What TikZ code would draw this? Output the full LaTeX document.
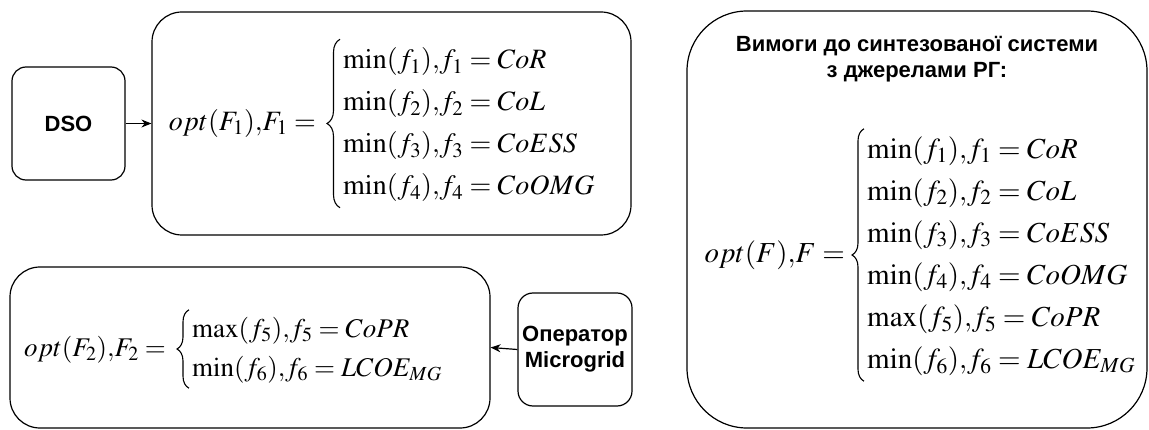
\documentclass[tikz,border=0pt]{standalone}
\usepackage{amsmath}
\usepackage{mathptmx}
\usepackage[no-math]{fontspec}
\setmainfont{Liberation Sans}
\usetikzlibrary{arrows.meta,decorations.pathreplacing}
\begin{document}
\begin{tikzpicture}[x=1pt,y=-1pt,
  blk/.style={draw, line width=1.2pt, rounded corners=#1, inner sep=0pt},
  lbl/.style={font=\fontsize{22}{26}\selectfont\bfseries, align=center},
  lhs/.style={inner sep=0pt, anchor=base east},
  rws/.style={inner sep=0pt, anchor=west},
  brc/.style={line width=1.1pt, decorate, decoration={brace, amplitude=#1}},
  conn/.style={line width=1.2pt, -{Stealth[length=10pt,width=8pt]}}]
\useasboundingbox (0,0) rectangle (1149,430);
% boxes
\node[blk=14pt, minimum width=113pt, minimum height=113pt] (dso) at (68.5,123.5) {};
\node[lbl] (dsot) at (dso.center) {DSO};
\node[blk=30pt, minimum width=479pt, minimum height=223pt] (f1) at (391.5,123.5) {};
\node[blk=30pt, minimum width=480pt, minimum height=161pt] (f2) at (250,347.5) {};
\node[blk=15pt, minimum width=114pt, minimum height=113pt] (op) at (575,349.5) {};
\node[lbl] (opt) at (op.center) {Оператор\\Microgrid};
\node[blk=60pt, minimum width=460pt, minimum height=417pt] (req) at (917,219.5) {};
\node[lbl] (reqt) at (917,59) {Вимоги до синтезованої системи\\з джерелами РГ:};
% formula 1
\node[lhs, font=\fontsize{28}{42}\selectfont] (l1) at (316,130.5) {$opt(F_1){,}F_1=$};
\node[rws, font=\fontsize{28}{42}\selectfont] (r1) at (343,123.5) {$\begin{array}{@{}l@{}}\min(f_1){,}f_1=CoR\\ \min(f_2){,}f_2=CoL\\ \min(f_3){,}f_3=CoESS\\ \min(f_4){,}f_4=CoOMG\end{array}$};
\draw[brc=13pt] ([xshift=-3pt]r1.south west) -- ([xshift=-3pt]r1.north west);
% formula 2
\node[lhs, font=\fontsize{27}{39}\selectfont] (l2) at (166,356) {$opt(F_2){,}F_2=$};
\node[rws, font=\fontsize{27}{39}\selectfont] (r2) at (192,349) {$\begin{array}{@{}l@{}}\max(f_5){,}f_5=CoPR\\ \min(f_6){,}f_6=LCOE_{MG}\end{array}$};
\draw[brc=12pt] ([xshift=-3pt]r2.south west) -- ([xshift=-3pt]r2.north west);
% formula 3
\node[lhs, font=\fontsize{29}{42}\selectfont] (l3) at (845,262.3) {$opt(F){,}F=$};
\node[rws, font=\fontsize{29}{42}\selectfont] (r3) at (867,255) {$\begin{array}{@{}l@{}}\min(f_1){,}f_1=CoR\\ \min(f_2){,}f_2=CoL\\ \min(f_3){,}f_3=CoESS\\ \min(f_4){,}f_4=CoOMG\\ \max(f_5){,}f_5=CoPR\\ \min(f_6){,}f_6=LCOE_{MG}\end{array}$};
\draw[brc=12pt] ([xshift=-3pt]r3.south west) -- ([xshift=-3pt]r3.north west);
% connectors
\draw[conn] (dso.east) -- (f1.west);
\draw[conn] (op.west) -- (f2.east);
\end{tikzpicture}
\end{document}
